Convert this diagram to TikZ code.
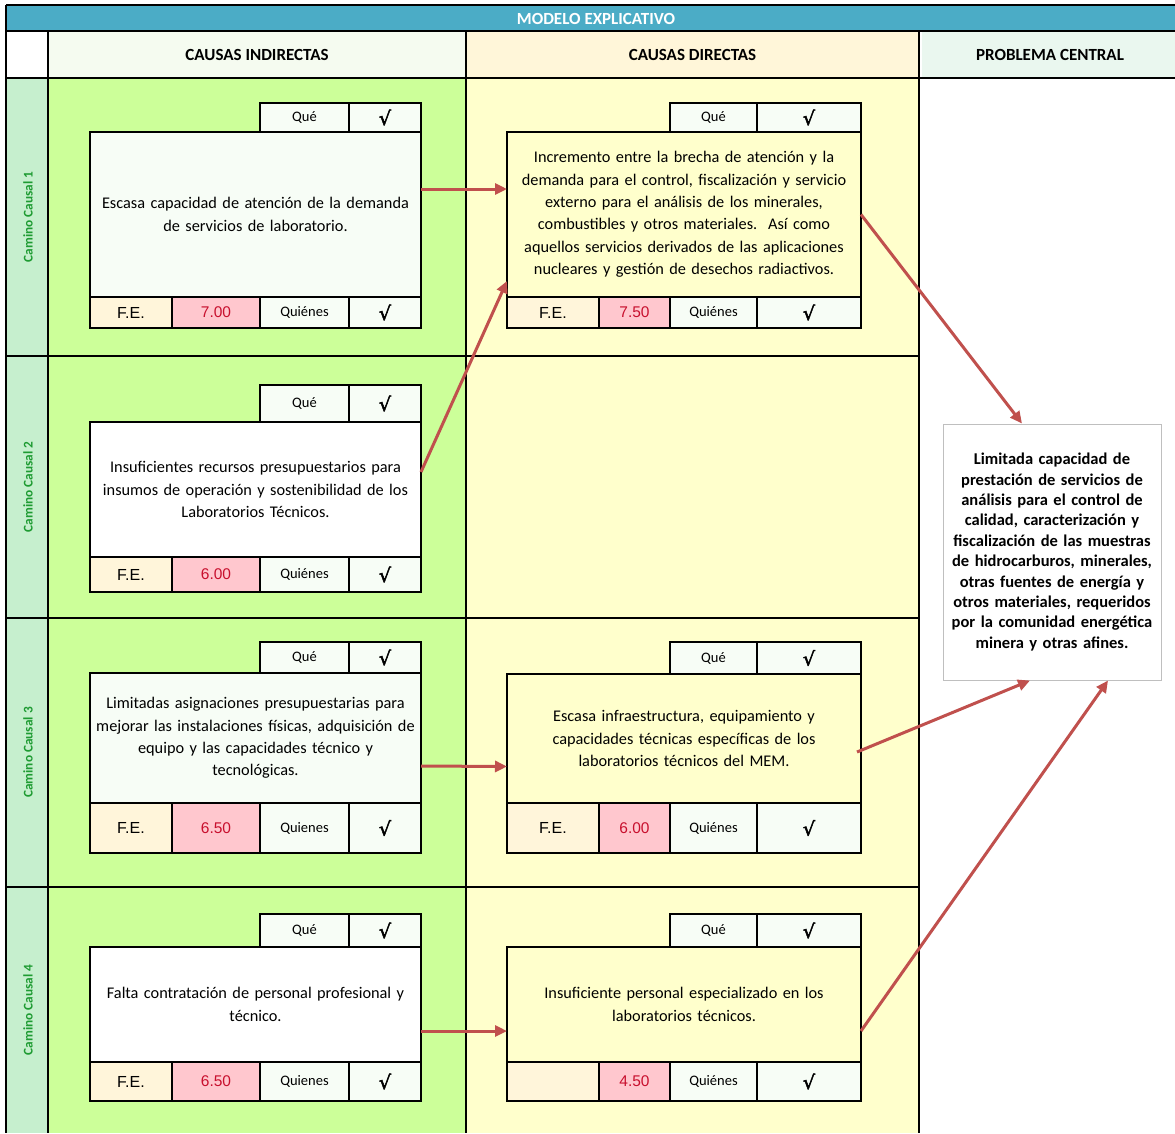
\documentclass[tikz,border=0pt]{standalone}
\usepackage{fontspec}
\setmainfont{Carlito}
\newfontfamily\arialf{Liberation Sans}
\newfontfamily\dejaf[FakeBold=2.5]{DejaVu Sans}
\usetikzlibrary{arrows.meta,calc}

\definecolor{azulT}{HTML}{4BACC6}
\definecolor{menta}{HTML}{C6EFCE}
\definecolor{verdeI}{HTML}{CCFF99}
\definecolor{amarillo}{HTML}{FFFFCC}
\definecolor{encI}{HTML}{F5FBF0}
\definecolor{encD}{HTML}{FFF6D9}
\definecolor{encP}{HTML}{EAF7EF}
\definecolor{claro}{HTML}{F7FDF6}
\definecolor{crema}{HTML}{FFF5DA}
\definecolor{rosa}{HTML}{FFC7CE}
\definecolor{rojoN}{HTML}{C8102E}
\definecolor{rojoF}{HTML}{C0504D}
\definecolor{verdeT}{HTML}{1E9B32}
\definecolor{grisB}{HTML}{BFBFBF}

\newcommand{\fcuerpo}{\fontsize{16.3}{22.4}\selectfont}
\newcommand{\fque}{\fontsize{14.5}{16}\selectfont}
\newcommand{\ffe}{\arialf\fontsize{16}{18}\selectfont}
\newcommand{\fnum}{\arialf\fontsize{15.5}{18}\selectfont}
\newcommand{\fchk}{\dejaf\fontsize{19}{20}\selectfont}

% caja de causa: nombre, x, y que, y texto, y pie, y fin, relleno, texto, valor
\newcommand{\causa}[9]{%
  \pgfmathsetmacro\xa{#2+\wfe}%
  \pgfmathsetmacro\xb{\xa+\wnum}%
  \pgfmathsetmacro\xc{\xb+\wqui}%
  \pgfmathsetmacro\wtot{\xc+\wchk-#2}%
  \node[celda, fill=claro, minimum width=\wqui pt, minimum height={#4-#3}, font=\fque] (#1que) at (\xb,#3) {Qué};
  \node[celda, fill=claro, minimum width=\wchk pt, minimum height={#4-#3}, font=\fchk] (#1chka) at (\xc,#3) {√};
  \node[celda, fill=#7, minimum width=\wtot pt, minimum height={#5-#4}, text width=\wtot pt, font=\fcuerpo] (#1texto) at (#2,#4) {#8};
  \node[celda, fill=crema, minimum width=\wfe pt, minimum height={#6-#5}, font=\ffe] (#1fe) at (#2,#5) {\fetxt};
  \node[celda, fill=rosa, minimum width=\wnum pt, minimum height={#6-#5}, text=rojoN, font=\fnum] (#1valor) at (\xa,#5) {#9};
  \node[celda, fill=claro, minimum width=\wqui pt, minimum height={#6-#5}, font=\fque] (#1quien) at (\xb,#5) {\quitxt};
  \node[celda, fill=claro, minimum width=\wchk pt, minimum height={#6-#5}, font=\fchk] (#1chkb) at (\xc,#5) {√};
}

\tikzset{
  celda/.style={draw=black, line width=2pt, inner sep=0pt, outer sep=0pt, anchor=north west, align=center},
  cabecera/.style={inner sep=0pt, font=\fontsize{17}{19}\selectfont\bfseries},
  camino/.style={rotate=90, text=verdeT, font=\fontsize{13.3}{15}\selectfont\bfseries},
  flecha/.style={draw=rojoF, line width=3pt, -{Triangle[length=12pt,width=11pt]}},
  rejilla/.style={line width=2pt},
}

\begin{document}
\begin{tikzpicture}[x=1pt,y=-1pt]
\useasboundingbox (0,0) rectangle (1175,1133);
%FONDOS
\fill[white] (0,0) rectangle (1175,1133);
\fill[azulT] (6,6) rectangle (1175,31);
\fill[menta] (6,78) rectangle (48,1133);
\fill[verdeI] (48,78) rectangle (466,1133);
\fill[amarillo] (466,78) rectangle (919,1133);
\node[text=white, font=\fontsize{17}{19}\selectfont\bfseries] (titulo) at (596,18.5) {MODELO EXPLICATIVO};
\node[cabecera, fill=encI, minimum width=418pt, minimum height=47pt] (indirectas) at (257,54.5) {CAUSAS INDIRECTAS};
\node[cabecera, fill=encD, minimum width=453pt, minimum height=47pt] (directas) at (692.5,54.5) {CAUSAS DIRECTAS};
\node[cabecera, fill=encP, minimum width=256pt, minimum height=47pt] (central) at (1050,54.5) {PROBLEMA CENTRAL};
%REJILLA
\draw[rejilla] (6,5) -- (1175,5);
\draw[rejilla] (6,31) -- (1175,31);
\draw[rejilla] (6,78) -- (1175,78);
\draw[rejilla] (6,5) -- (6,1133);
\foreach \x in {48,466,919}
  \draw[rejilla] (\x,31) -- (\x,1133);
\foreach \y in {356,618,887}
  \draw[rejilla] (6,\y) -- (919,\y);
%CAMINOS
\node[camino] (camino1) at (28,217) {Camino Causal 1};
\node[camino] (camino2) at (28,487) {Camino Causal 2};
\node[camino] (camino3) at (28,752.5) {Camino Causal 3};
\node[camino] (camino4) at (28,1010) {Camino Causal 4};
%CAUSAS INDIRECTAS
\def\wfe{82}\def\wnum{88}\def\wqui{89}\def\wchk{72}
\def\fetxt{F.E.}\def\quitxt{Quiénes}
\causa{ia}{90}{103}{132}{297}{328}{claro}{Escasa capacidad de atención de la demanda\\ de servicios de laboratorio.}{7.00}
\causa{ib}{90}{385}{422}{557}{592}{white}{Insuficientes recursos presupuestarios para\\ insumos de operación y sostenibilidad de los\\ Laboratorios Técnicos.}{6.00}
\def\quitxt{Quienes}
\causa{ic}{90}{642}{673}{803}{853}{claro}{Limitadas asignaciones presupuestarias para\\ mejorar las instalaciones físicas, adquisición de\\ equipo y las capacidades técnico y\\ tecnológicas.}{6.50}
\causa{id}{90}{914}{947}{1062}{1101}{white}{Falta contratación de personal profesional y\\ técnico.}{6.50}
%CAUSAS DIRECTAS
\def\wfe{92}\def\wnum{71}\def\wqui{87}\def\wchk{104}
\def\quitxt{Quiénes}
\causa{da}{507}{103}{132}{297}{328}{amarillo}{Incremento entre la brecha de atención y la\\ demanda para el control, fiscalización y servicio\\ externo para el análisis de los minerales,\\ combustibles y otros materiales.\ \ Así como\\ aquellos servicios derivados de las aplicaciones\\ nucleares y gestión de desechos radiactivos.}{7.50}
\causa{dc}{507}{642}{674}{803}{853}{amarillo}{Escasa infraestructura, equipamiento y\\ capacidades técnicas específicas de los\\ laboratorios técnicos del MEM.}{6.00}
\def\fetxt{}
\causa{dd}{507}{914}{947}{1062}{1101}{amarillo}{Insuficiente personal especializado en los\\ laboratorios técnicos.}{4.50}
%PROBLEMA CENTRAL
\node[draw=grisB, line width=1pt, fill=white, minimum width=218pt, minimum height=256pt, text width=216pt, align=center, inner sep=0pt, font=\fontsize{16.5}{20.4}\selectfont\bfseries] (problema) at (1052,552) {Limitada capacidad de\\ prestación de servicios de\\ análisis para el control de\\ calidad, caracterización y\\ fiscalización de las muestras\\ de hidrocarburos, minerales,\\ otras fuentes de energía y\\ otros materiales, requeridos\\ por la comunidad energética\\ minera y otras afines.};
%FLECHAS
\draw[flecha] ([yshift=25.5pt]iatexto.east) -- ([yshift=25.5pt]datexto.west);
\draw[flecha] ([yshift=17.5pt]ibtexto.east) -- ([yshift=-66.5pt]datexto.west);
\draw[flecha] (datexto.east) -- ([xshift=-30pt]problema.north);
\draw[flecha] ([yshift=-28pt]ictexto.east) -- ([yshift=-28pt]dctexto.west);
\draw[flecha] ([xshift=-4pt,yshift=-13.5pt]dctexto.east) -- ([xshift=-22pt]problema.south);
\draw[flecha] ([yshift=-26.5pt]idtexto.east) -- ([yshift=-26.5pt]ddtexto.west);
\draw[flecha] ([yshift=-26.5pt]ddtexto.east) -- ([xshift=56pt]problema.south);
\end{tikzpicture}
\end{document}
